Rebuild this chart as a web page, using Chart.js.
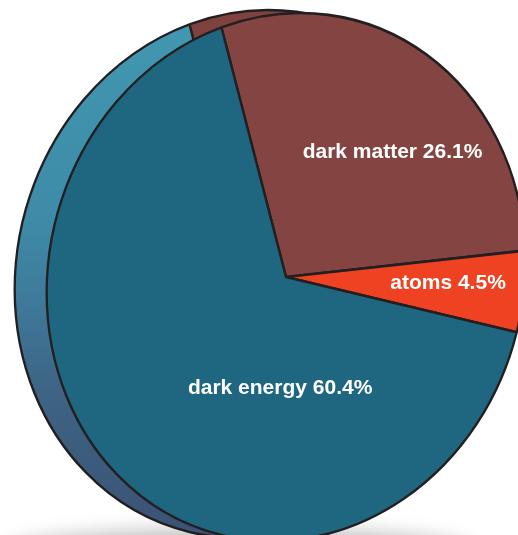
<!DOCTYPE html>
<html>
<head>
<meta charset="utf-8">
<script src="https://cdn.jsdelivr.net/npm/chart.js@4.4.1/dist/chart.umd.min.js"></script>
<style>
  html, body { margin: 0; padding: 0; background: #fff; overflow: hidden; }
  #wrap { width: 518px; height: 535px; }
</style>
</head>
<body>
<div id="wrap"><canvas id="chart" width="518" height="535"></canvas></div>
<script>
const labels = ['dark matter', 'atoms', 'dark energy'];
const values = [26.1, 4.5, 60.4];
const colors = ['#844542', '#ef4223', '#1f6680'];
const sideColors = ['#7f423e', '#c23a22', null]; // null = blue gradient

// where each label sits: angle from top (deg) and share of radius
const labelAngle = [41.6, 92, 180];
const labelRadius = [0.63, 0.68, 0.42];

// fake 3d: squeeze + shear the pie, then drop a shifted copy behind it
const tilt = { cx: 286, cy: 277, r: 264, sx: 0.905, shear: -0.053, depthX: -32, depthY: -3 };

const tiltPie = {
    id: 'tiltPie',
    beforeDatasetsDraw(chart) {
        const ctx = chart.ctx;
        const arcs = chart.getDatasetMeta(0).data;
        const x0 = arcs[0].x, y0 = arcs[0].y, R0 = arcs[0].outerRadius;
        const s = tilt.r / R0;
        const place = (dx, dy) => {
            ctx.translate(tilt.cx + dx, tilt.cy + dy);
            ctx.transform(tilt.sx, 0, tilt.shear, 1, 0, 0);
            ctx.scale(s, s);
            ctx.translate(-x0, -y0);
        };

        // floor shadow
        ctx.save();
        ctx.filter = 'blur(10px)';
        ctx.fillStyle = 'rgba(0,0,0,0.28)';
        ctx.beginPath();
        ctx.ellipse(240, 552, 230, 22, 0, 0, Math.PI * 2);
        ctx.fill();
        ctx.restore();

        // side / back copy
        ctx.save();
        place(tilt.depthX, tilt.depthY);
        const grad = ctx.createLinearGradient(0, y0 - R0, 0, y0 + R0);
        grad.addColorStop(0, '#4298b1');
        grad.addColorStop(0.4, '#3e8ba7');
        grad.addColorStop(0.55, '#3e7a9a');
        grad.addColorStop(0.72, '#3e6484');
        grad.addColorStop(0.92, '#3c5779');
        grad.addColorStop(1, '#3b5275');
        arcs.forEach((arc, i) => {
            const o = arc.options;
            arc.options = Object.assign({}, o, { backgroundColor: sideColors[i] || grad });
            arc.draw(ctx);
            arc.options = o;
        });
        ctx.restore();

        // front face
        ctx.save();
        place(0, 0);
        arcs.forEach(arc => arc.draw(ctx));
        ctx.restore();
        return false;
    },
    afterDraw(chart) {
        const ctx = chart.ctx;
        ctx.save();
        ctx.font = 'bold 21px "Liberation Sans", Arial, sans-serif';
        ctx.fillStyle = '#ffffff';
        ctx.textAlign = 'center';
        ctx.textBaseline = 'middle';
        labels.forEach((name, i) => {
            const a = labelAngle[i] * Math.PI / 180;
            const rr = labelRadius[i] * tilt.r;
            const u = rr * Math.sin(a), v = -rr * Math.cos(a);
            const x = tilt.cx + tilt.sx * u + tilt.shear * v;
            const y = tilt.cy + v;
            ctx.fillText(name + ' ' + values[i] + '%', x, y);
        });
        ctx.restore();
    }
};

new Chart(document.getElementById('chart'), {
    type: 'pie',
    data: {
        labels: labels,
        datasets: [{
            data: values,
            backgroundColor: colors,
            borderColor: '#231f20',
            borderWidth: 2.5
        }]
    },
    options: {
        responsive: false,
        animation: false,
        rotation: -19,
        layout: { padding: 0 },
        plugins: {
            legend: { display: false },
            tooltip: { enabled: false }
        }
    },
    plugins: [tiltPie]
});
</script>
</body>
</html>
